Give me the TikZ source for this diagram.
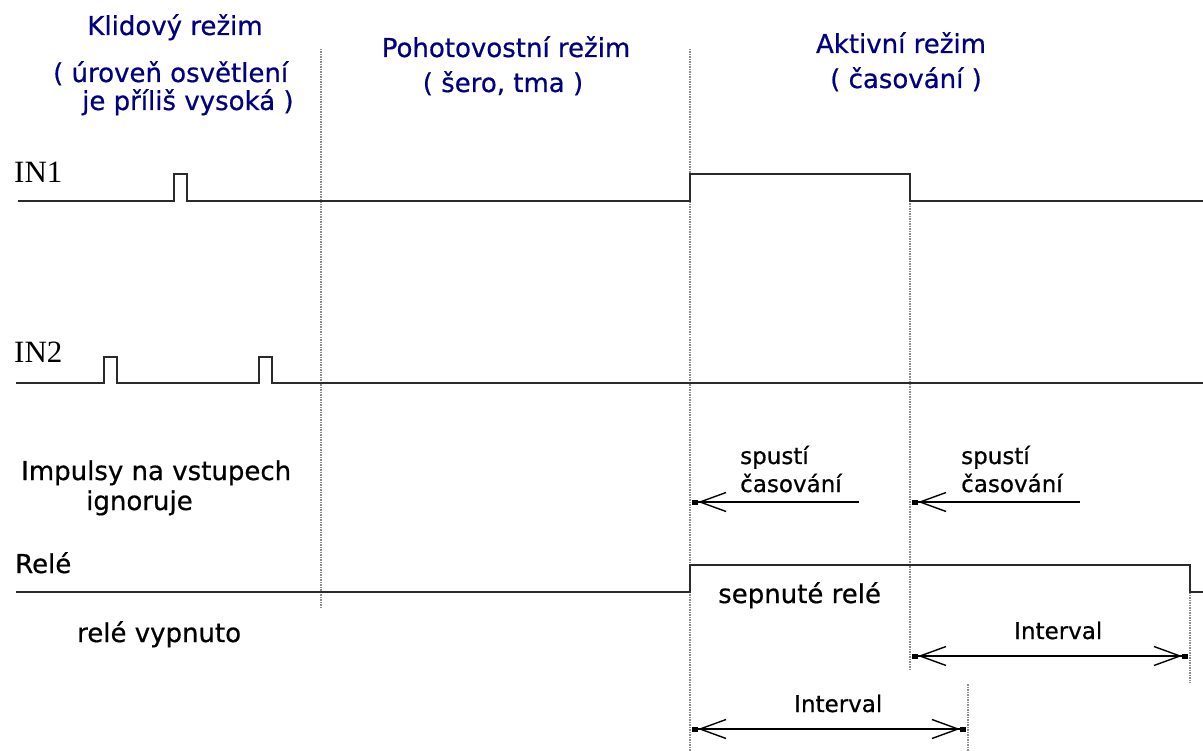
\documentclass[tikz,border=0pt]{standalone}
\usepackage{fontspec}
\setmainfont[FakeBold=0.6]{DejaVu Sans}
\newfontfamily\inserif{Liberation Serif}
\usetikzlibrary{arrows.meta}
\definecolor{navy}{HTML}{000080}
\definecolor{sigcol}{HTML}{2A2A2A}
\definecolor{gridcol}{HTML}{8C8C8C}
\tikzset{
  sig/.style={draw=sigcol, line width=2.4pt},
  gridline/.style={draw=gridcol, line width=1.5pt, dash pattern=on 1.5pt off 1pt},
  title/.style={text=navy, font=\fontsize{26}{30}\selectfont, inner sep=0pt, anchor=base},
  lbl/.style={text=black, font=\fontsize{26}{30}\selectfont, inner sep=0pt, anchor=base west},
  small/.style={text=black, font=\fontsize{23}{27}\selectfont, inner sep=0pt, anchor=base west},
  chan/.style={text=black, font=\inserif\fontsize{31}{34}\selectfont, inner sep=0pt, anchor=base west},
  barbtip/.style={line width=1.8pt, draw=black, -{Straight Barb[length=26pt,width=19pt,line width=1.4pt] Square[length=6pt,width=5pt]}},
  barbboth/.style={line width=1.8pt, draw=black, {Square[length=6pt,width=5pt] Straight Barb[length=26pt,width=19pt,line width=1.4pt]}-{Straight Barb[length=26pt,width=19pt,line width=1.4pt] Square[length=6pt,width=5pt]}}
}
\begin{document}
\begin{tikzpicture}[x=1pt,y=-1pt]
\useasboundingbox (0,0) rectangle (1203,751);
\fill[white] (0,0) rectangle (1203,751);

% grid coordinates
\coordinate (g1t) at (321,49);  \coordinate (g1b) at (321,607);
\coordinate (g2t) at (690,49);  \coordinate (g2b) at (690,751);
\coordinate (g3t) at (910,201); \coordinate (g3b) at (910,670);
\coordinate (g4t) at (1190,592);\coordinate (g4b) at (1190,683);
\coordinate (g5t) at (968,684); \coordinate (g5b) at (968,751);
\draw[gridline] (g1t) -- (g1b);
\draw[gridline] (g2t) -- (g2b);
\draw[gridline] (g3t) -- (g3b);
\draw[gridline] (g4t) -- (g4b);
\draw[gridline] (g5t) -- (g5b);

% titles
\node[title] (t1) at (175,35) {Klidový režim};
\node[title, anchor=base west] (t1b) at (53,82) {( úroveň osvětlení};
\node[title, anchor=base west] (t1c) at (82,110) {je příliš vysoká )};
\node[title] (t2) at (506,57) {Pohotovostní režim};
\node[title] (t2b) at (503,92) {( šero, tma )};
\node[title] (t3) at (901,53) {Aktivní režim};
\node[title] (t3b) at (906,88) {( časování )};

% channel labels
\node[chan] (in1) at (14,183) {IN1};
\node[chan] (in2) at (14,363) {IN2};
\node[lbl] (imp) at (21,480) {Impulsy na vstupech};
\node[lbl] (ign) at (86,510) {ignoruje};
\node[lbl] (rel) at (15,573) {Relé};
\node[lbl] (vyp) at (77,642) {relé vypnuto};
\node[lbl] (sep) at (718,603) {sepnuté relé};
\node[small] (sp1) at (740,464) {spustí};
\node[small] (ca1) at (740,492) {časování};
\node[small] (sp2) at (961,464) {spustí};
\node[small] (ca2) at (961,492) {časování};
\node[small] (iv1) at (1014,639) {Interval};
\node[small] (iv2) at (794,712) {Interval};

% signals
\coordinate (in1s) at (18,201);
\coordinate (in1e) at (1203,201);
\draw[sig] (in1s) -- (174,201) -- (174,174) -- (187,174) -- (187,201) -- (690,201)
  -- (690,174) -- (910,174) -- (910,201) -- (in1e);
\coordinate (in2s) at (16,383);
\coordinate (in2e) at (1203,383);
\draw[sig] (in2s) -- (104,383) -- (104,357) -- (117,357) -- (117,383) -- (259,383)
  -- (259,357) -- (272,357) -- (272,383) -- (in2e);
\coordinate (rls) at (16,592);
\coordinate (rle) at (1203,592);
\draw[sig] (rls) -- (690,592) -- (690,565) -- (1190,565) -- (1190,592) -- (rle);

% trigger arrows
\coordinate (a1s) at (859,502); \coordinate (a1e) at (692,502);
\coordinate (a2s) at (1080,502); \coordinate (a2e) at (912,502);
\draw[barbtip] (a1s) -- (a1e);
\draw[barbtip] (a2s) -- (a2e);

% interval arrows
\coordinate (i1s) at (912,656); \coordinate (i1e) at (1188,656);
\coordinate (i2s) at (692,729); \coordinate (i2e) at (966,729);
\draw[barbboth] (i1s) -- (i1e);
\draw[barbboth] (i2s) -- (i2e);
\end{tikzpicture}
\end{document}
